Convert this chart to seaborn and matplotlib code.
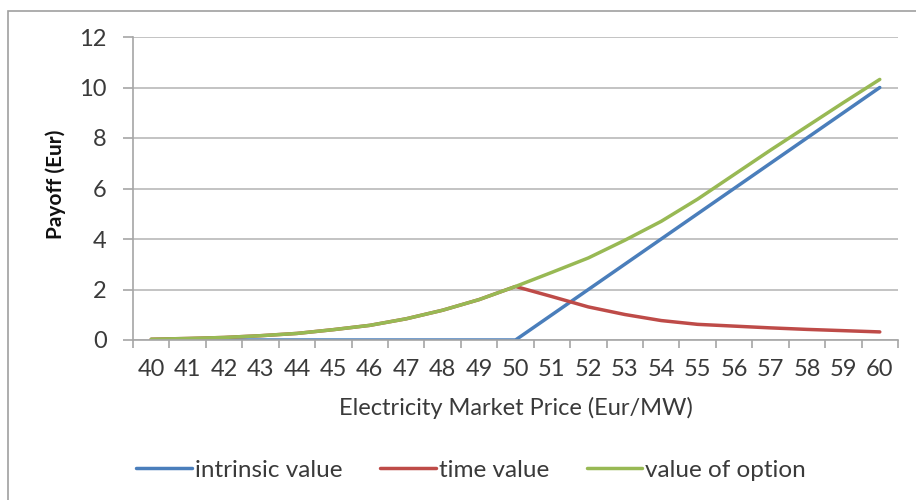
import matplotlib
matplotlib.use("Agg")
import matplotlib.pyplot as plt
import pandas as pd
import seaborn as sns
from matplotlib.patches import Rectangle
from matplotlib.ticker import FixedLocator

# Electricity market price (Eur/MW) on the category axis
price = [40, 41, 42, 43, 44, 45, 46, 47, 48, 49, 50,
         51, 52, 53, 54, 55, 56, 57, 58, 59, 60]

# Payoff components (Eur)
intrinsic_value = [0, 0, 0, 0, 0, 0, 0, 0, 0, 0, 0,
                   1, 2, 3, 4, 5, 6, 7, 8, 9, 10]
time_value = [0.03, 0.06, 0.10, 0.17, 0.26, 0.41, 0.58, 0.84, 1.18, 1.60, 2.12,
              1.72, 1.31, 1.01, 0.77, 0.62, 0.55, 0.48, 0.42, 0.37, 0.32]
value_of_option = [0.03, 0.06, 0.10, 0.17, 0.26, 0.41, 0.58, 0.84, 1.18, 1.60, 2.12,
                   2.68, 3.25, 3.95, 4.70, 5.58, 6.55, 7.52, 8.46, 9.40, 10.32]

series_names = ["intrinsic value", "time value", "value of option"]
series_colors = ["#4A7EBB", "#BE4B48", "#98B954"]
y_ticks = [0, 2, 4, 6, 8, 10, 12]

df = pd.concat([
    pd.DataFrame({"price": price, "payoff": intrinsic_value, "series": series_names[0]}),
    pd.DataFrame({"price": price, "payoff": time_value, "series": series_names[1]}),
    pd.DataFrame({"price": price, "payoff": value_of_option, "series": series_names[2]}),
], ignore_index=True)

sns.set_theme(style="white")
plt.rcParams["font.family"] = ["Lato", "DejaVu Sans"]

text_color = "#3A3A3A"
axis_color = "#A6A6A6"
grid_color = "#C3C3C3"

fig = plt.figure(figsize=(9.16, 5.0), dpi=100)
ax = fig.add_axes([133 / 916, 1 - 340 / 500, (898 - 133) / 916, (340 - 37) / 500])

sns.lineplot(data=df, x="price", y="payoff", hue="series", hue_order=series_names,
             palette=series_colors, linewidth=2.5, ax=ax, legend=True)

ax.set_xlim(39.5, 60.5)
ax.set_ylim(0, 12)

# Category labels at the centres, tick marks between categories
ax.xaxis.set_major_locator(FixedLocator(price))
ax.set_xticklabels([str(p) for p in price])
ax.xaxis.set_minor_locator(FixedLocator([p - 0.5 for p in price] + [price[-1] + 0.5]))
ax.tick_params(axis="x", which="major", length=0, pad=14, labelsize=17, labelcolor=text_color)
ax.tick_params(axis="x", which="minor", bottom=True, length=6, width=1.2, color=axis_color, direction="out")

ax.set_yticks(y_ticks)
ax.set_yticklabels([str(v) for v in y_ticks])
ax.tick_params(axis="y", which="major", left=True, length=7, width=1.2, color=axis_color,
               pad=12, labelsize=17, labelcolor=text_color, direction="out")

ax.grid(axis="y", color=grid_color, linewidth=1.4)
ax.grid(axis="x", visible=False)
ax.set_axisbelow(True)

for side in ["top", "right"]:
    ax.spines[side].set_visible(False)
for side in ["left", "bottom"]:
    ax.spines[side].set_color(axis_color)
    ax.spines[side].set_linewidth(1.2)

ax.set_xlabel("Electricity Market Price (Eur/MW)", fontsize=17, color=text_color)
ax.xaxis.set_label_coords(0.5, -0.224)
ax.xaxis.label.set_va("center")
ax.set_ylabel("Payoff (Eur)", fontsize=15, fontweight="bold", color="#111111")
ax.yaxis.set_label_coords(-0.101, 0.515)
ax.yaxis.label.set_va("center")

handles, labels = ax.get_legend_handles_labels()
ax.get_legend().remove()
fig.legend(handles, labels, loc="center", bbox_to_anchor=(471 / 916, 1 - 470 / 500),
           ncol=3, frameon=False, fontsize=17.5, handlelength=2.3, handletextpad=0.12,
           columnspacing=1.55, labelcolor=text_color)

# Chart-area border
fig.patches.append(Rectangle((8 / 916, -0.1), 1.2, 1 - 11 / 500 + 0.1, transform=fig.transFigure,
                             fill=False, edgecolor="#A0A0A0", linewidth=1.2))

fig.savefig("out.png", dpi=100)
